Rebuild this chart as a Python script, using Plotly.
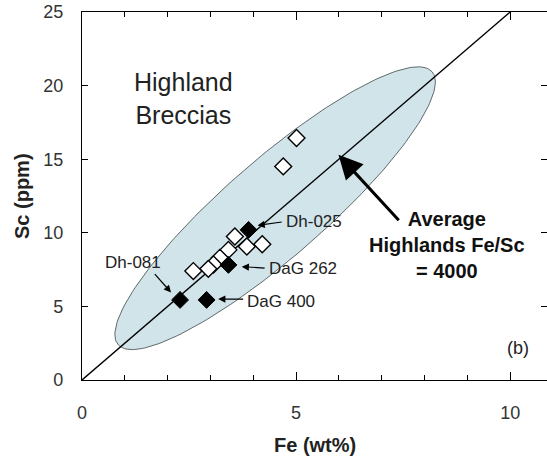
import numpy as np
import plotly.graph_objects as go

# ---- data ----
open_fe = [5.01, 4.70, 3.57, 3.85, 4.21, 3.42, 3.22, 3.07, 2.95, 2.60]
open_sc = [16.44, 14.51, 9.75, 9.07, 9.22, 8.84, 8.30, 7.85, 7.55, 7.40]

met_names = ["Dh-081", "DaG 400", "DaG 262", "Dh-025"]
met_fe = [2.29, 2.91, 3.42, 3.89]
met_sc = [5.44, 5.44, 7.82, 10.20]

fe_sc_ratio = 4000  # Fe/Sc for the reference line
line_fe = [0, 11]

# ellipse (highland breccia field)
ell_center = (4.51, 11.67)
ell_a_px, ell_b_px, ell_angle_deg = 208, 49, 41

x_range = [0, 10.86]
y_range = [0, 25]
x_ticklabels = [0, 5, 10]
y_ticklabels = [0, 5, 10, 15, 20, 25]

W, H = 547, 458
ML, MR, MT, MB = 82, 0, 12, 78
px_x = (W - ML - MR) / (x_range[1] - x_range[0])
px_y = (H - MT - MB) / (y_range[1] - y_range[0])

t = np.linspace(0, 2 * np.pi, 200)
th = np.deg2rad(ell_angle_deg)
ex = ell_center[0] + (ell_a_px * np.cos(t) * np.cos(th) - ell_b_px * np.sin(t) * np.sin(th)) / px_x
ey = ell_center[1] + (ell_a_px * np.cos(t) * np.sin(th) + ell_b_px * np.sin(t) * np.cos(th)) / px_y

line_sc = [f * 10000 / fe_sc_ratio for f in line_fe]

fig = go.Figure()
fig.add_trace(go.Scatter(x=ex, y=ey, mode="lines", fill="toself",
                         fillcolor="rgb(208,228,234)",
                         line=dict(color="rgb(95,105,105)", width=1),
                         hoverinfo="skip", showlegend=False))
fig.add_trace(go.Scatter(x=line_fe, y=line_sc, mode="lines",
                         line=dict(color="black", width=1.4), showlegend=False))
fig.add_trace(go.Scatter(x=open_fe, y=open_sc, mode="markers",
                         marker=dict(symbol="diamond", size=13, color="white",
                                     line=dict(color="black", width=1.4)),
                         showlegend=False))
fig.add_trace(go.Scatter(x=met_fe, y=met_sc, mode="markers",
                         marker=dict(symbol="diamond", size=13, color="black",
                                     line=dict(color="black", width=1)),
                         showlegend=False))

lab_font = dict(family="Liberation Sans", size=17, color="#222")
bold_font = dict(family="Liberation Sans", size=20, color="#111")

ann = []
# point labels with leader arrows: (name, text x, text y, tail x, tail y, tip x, tip y, anchor)
labels = [
    ("Dh-081", 0.48, 7.95, 1.67, 7.3, 2.08, 5.95, "left"),
    ("DaG 400", 3.80, 5.35, 3.80, 5.50, 3.18, 5.50, "left"),
    ("DaG 262", 4.33, 7.55, 4.30, 7.60, 3.73, 7.70, "left"),
    ("Dh-025", 4.72, 10.75, 4.70, 10.75, 4.10, 10.50, "left"),
]
for name, tx, ty, axx, ayy, hx, hy, anc in labels:
    ann.append(dict(x=tx, y=ty, xref="x", yref="y", text=name, showarrow=False,
                    xanchor=anc, yanchor="middle", font=lab_font))
    ann.append(dict(x=hx, y=hy, ax=axx, ay=ayy, xref="x", yref="y", axref="x", ayref="y",
                    text="", showarrow=True, arrowhead=2, arrowsize=1.2,
                    arrowwidth=1.2, arrowcolor="black"))

# main arrow
ann.append(dict(x=5.99, y=15.3, ax=7.43, ay=10.75, xref="x", yref="y", axref="x", ayref="y",
                text="", showarrow=True, arrowhead=2, arrowsize=1.6,
                arrowwidth=3, arrowcolor="black"))
ann.append(dict(x=8.53, y=9.18, xref="x", yref="y",
                text="<b>Average</b><br><b>Highlands Fe/Sc</b><br><b>= 4000</b>",
                showarrow=False, xanchor="center", yanchor="middle", align="center",
                font=bold_font))
ann.append(dict(x=2.36, y=19.1, xref="x", yref="y", text="Highland<br>Breccias",
                showarrow=False, xanchor="center", yanchor="middle", align="center",
                font=dict(family="Liberation Sans", size=25, color="#222")))
ann.append(dict(x=10.19, y=2.18, xref="x", yref="y", text="(b)", showarrow=False,
                xanchor="center", yanchor="middle",
                font=dict(family="Liberation Sans", size=18, color="#222")))
# axis titles
title_font = dict(family="Liberation Sans", size=20, color="#222")
ann.append(dict(x=0.5, y=0, xref="paper", yref="paper", yshift=-65,
                text="<b>Fe (wt%)</b>", showarrow=False, xanchor="center",
                yanchor="middle", font=title_font))
ann.append(dict(x=0, y=0.5, xref="paper", yref="paper", xshift=-60,
                text="<b>Sc (ppm)</b>", showarrow=False, textangle=-90,
                xanchor="center", yanchor="middle", font=title_font))

fig.update_layout(
    width=W, height=H,
    margin=dict(l=ML, r=MR, t=MT, b=MB, autoexpand=False),
    paper_bgcolor="white", plot_bgcolor="white",
    annotations=ann,
    xaxis=dict(range=x_range, tickvals=x_ticklabels, ticks="inside", ticklen=8,
               tickcolor="black", tickwidth=1, showline=True, linecolor="black",
               linewidth=1.2, mirror="ticks", showgrid=False, zeroline=False,
               automargin=False, ticklabeloverflow="allow", ticklabelstandoff=16,
               minor=dict(dtick=1, ticks="inside", ticklen=5, tickcolor="black", showgrid=False),
               tickfont=dict(family="Liberation Sans", size=18, color="#333")),
    yaxis=dict(range=y_range, tickvals=y_ticklabels, ticks="inside", ticklen=6,
               tickcolor="black", tickwidth=1, showline=True, linecolor="black",
               linewidth=1.2, mirror="ticks", showgrid=False, zeroline=False,
               automargin=False, ticklabeloverflow="allow", ticklabelstandoff=14,
               tickfont=dict(family="Liberation Sans", size=18, color="#333")),
)

# remove the default page margin so the figure fills the window exactly
fig.write_html("out.html", config={"displayModeBar": False},
               post_script="document.body.style.margin='0';")
